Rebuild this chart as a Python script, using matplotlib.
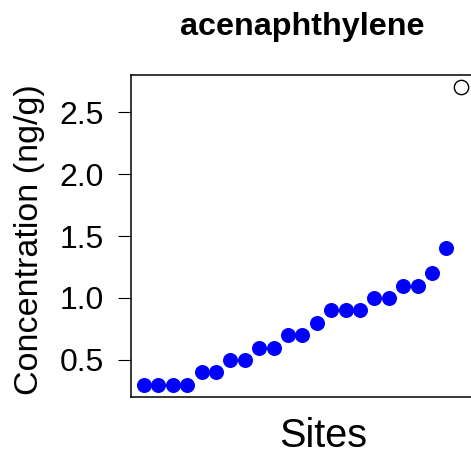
import matplotlib
matplotlib.use("Agg")
import matplotlib.pyplot as plt
import numpy as np

title = "acenaphthylene"
ylabel = "Concentration (ng/g)"
xlabel = "Sites"
values = [0.3, 0.3, 0.3, 0.3, 0.4, 0.4, 0.5, 0.5, 0.6, 0.6, 0.7, 0.7, 0.8,
          0.9, 0.9, 0.9, 1.0, 1.0, 1.1, 1.1, 1.2, 1.4]
outlier_value = [2.7]
yticks = [0.5, 1.0, 1.5, 2.0, 2.5]
ytick_labels = ["0.5", "1.0", "1.5", "2.0", "2.5"]

plt.rcParams['font.family'] = ['Liberation Sans', 'DejaVu Sans']

W, H = 471, 457
fig = plt.figure(figsize=(W / 100, H / 100), dpi=100)

n = len(values) + len(outlier_value)
xs = np.arange(1, len(values) + 1)
xo = np.arange(len(values) + 1, n + 1)
allv = values + outlier_value
lo, hi = min(allv), max(allv)
pad_y = 0.04 * (hi - lo)
pad_x = 0.04 * (n - 1)

left_px, right_px = 131.3, 473.5
top_px, bottom_px = 75.3, 396.7
ax = fig.add_axes([left_px / W, 1 - bottom_px / H,
                   (right_px - left_px) / W, (bottom_px - top_px) / H])

ax.plot(xs, values, 'o', color='#0000ff', markersize=10.8, markeredgewidth=0,
        clip_on=False)
ax.plot(xo, outlier_value, 'o', markerfacecolor='none', markeredgecolor='black',
        markersize=10.3, markeredgewidth=1.0, clip_on=False)

ax.set_xlim(1 - pad_x, n + pad_x)
ax.set_ylim(lo - pad_y, hi + pad_y)
ax.set_xticks([])
ax.set_yticks(yticks)
ax.set_yticklabels(ytick_labels)
ax.tick_params(axis='y', length=9.4, width=0.8, pad=10.5, labelsize=23,
               colors='black')
for s in ax.spines.values():
    s.set_linewidth(1.1)
    s.set_color('black')

fig.text(302 / W, 1 - 35 / H, title, ha='center', va='baseline',
         fontsize=23.3, fontweight='bold')
fig.text(323.5 / W, 1 - 447 / H, xlabel, ha='center', va='baseline',
         fontsize=28.5)
fig.text(38 / W, 1 - 240 / H, ylabel, ha='center', va='baseline',
         rotation=90, rotation_mode='anchor', fontsize=24.5)

fig.savefig("out.png", dpi=100)
